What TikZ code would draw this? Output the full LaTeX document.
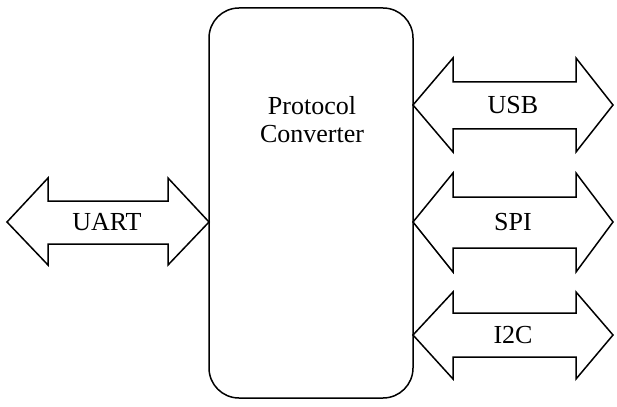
\documentclass[tikz,border=0pt]{standalone}
\usepackage{fontspec}
\setmainfont{Liberation Serif}
\begin{document}
\begin{tikzpicture}[x=1pt,y=-1pt,
  line/.style={draw=black,line width=1.5pt,line join=miter},
  lbl/.style={font=\fontsize{26}{28}\selectfont,inner sep=0pt}]
\useasboundingbox (0,0) rectangle (617,406);
% central box
\draw[line,rounded corners=30pt] (209,8) rectangle (413,398);
\node[lbl,align=center,anchor=north] (pc) at (312,96) {Protocol\\Converter};
% UART
\draw[line] (7,222) -- (48,178) -- (48,201) -- (168,201) -- (168,178) -- (209,222)
  -- (168,265) -- (168,244) -- (48,244) -- (48,265) -- cycle;
\node[lbl] (uart) at (107,222) {UART};
% USB
\draw[line] (413,105) -- (453,58) -- (453,82) -- (576,82) -- (576,58) -- (613,105)
  -- (576,152) -- (576,129) -- (453,129) -- (453,152) -- cycle;
\node[lbl] (usb) at (513,105) {USB};
% SPI
\draw[line] (413,222) -- (453,173) -- (453,197) -- (576,197) -- (576,173) -- (613,222)
  -- (576,272) -- (576,248) -- (453,248) -- (453,272) -- cycle;
\node[lbl] (spi) at (513,222) {SPI};
% I2C
\draw[line] (413,335) -- (453,292) -- (453,313) -- (576,313) -- (576,292) -- (613,335)
  -- (576,379) -- (576,357) -- (453,357) -- (453,379) -- cycle;
\node[lbl] (i2c) at (513,335) {I2C};
\end{tikzpicture}
\end{document}
